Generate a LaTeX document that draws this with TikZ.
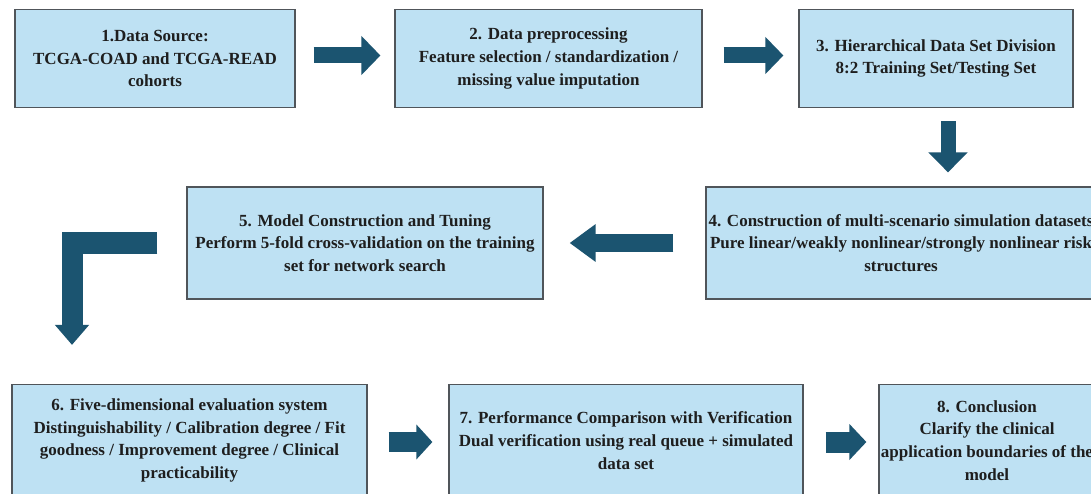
\documentclass[tikz,border=0pt]{standalone}
\usepackage{fontspec}
\setmainfont{Liberation Serif}
\usetikzlibrary{arrows.meta}
\definecolor{boxfill}{RGB}{190,225,243}
\definecolor{boxline}{RGB}{80,85,90}
\definecolor{arrowc}{RGB}{27,84,112}
\definecolor{txt}{RGB}{30,30,30}
\begin{document}
\begin{tikzpicture}[x=1pt,y=-1pt,
  box/.style={draw=boxline, line width=1.2pt, fill=boxfill, inner sep=0pt,
    align=center, text=txt, font=\fontsize{17}{22.8}\selectfont\bfseries},
  flow/.style={draw=arrowc, line cap=butt, line join=miter},
]
\useasboundingbox (0,0) rectangle (1091,494);
\clip (0,0) rectangle (1091,494);
\fill[white] (0,0) rectangle (1091,494);

\node[box, minimum width=280pt, minimum height=98pt] (b1) at (155,58.5)
  {1.Data Source:\\TCGA-COAD and TCGA-READ\\cohorts};
\node[box, minimum width=307pt, minimum height=98pt] (b2) at (548.5,58.5)
  {2. Data preprocessing\\Feature selection / standardization /\\missing value imputation};
\node[box, minimum width=274pt, minimum height=98pt] (b3) at (936,58.5)
  {3. Hierarchical Data Set Division\\8:2 Training Set/Testing Set};
\node[box, minimum width=390pt, minimum height=112pt] (b4) at (901,243)
  {4. Construction of multi-scenario simulation datasets\\Pure linear/weakly nonlinear/strongly nonlinear risk\\structures};
\node[box, minimum width=356pt, minimum height=112pt] (b5) at (365,243)
  {5. Model Construction and Tuning\\Perform 5-fold cross-validation on the training\\set for network search};
\node[box, minimum width=355pt, minimum height=112pt] (b6) at (189.5,440.5)
  {6. Five-dimensional evaluation system\\Distinguishability / Calibration degree / Fit\\goodness / Improvement degree / Clinical\\practicability};
\node[box, minimum width=354pt, minimum height=112pt] (b7) at (626,440.5)
  {7. Performance Comparison with Verification\\Dual verification using real queue + simulated\\data set};
\node[box, minimum width=216pt, minimum height=112pt] (b8) at (987,440.5)
  {8. Conclusion\\Clarify the clinical\\application boundaries of the\\model};

\coordinate (lc) at (72,0);

% 1 -> 2
\draw[flow, line width=16pt, -{Triangle[length=19pt,width=38pt]},
  shorten <=18pt, shorten >=14pt] ([yshift=3pt]b1.east) -- ([yshift=3pt]b2.west);
% 2 -> 3
\draw[flow, line width=16pt, -{Triangle[length=18pt,width=36pt]},
  shorten <=21pt, shorten >=15pt] ([yshift=3pt]b2.east) -- ([yshift=3pt]b3.west);
% 3 -> 4
\draw[flow, line width=15pt, -{Triangle[length=20pt,width=38pt]},
  shorten <=13pt, shorten >=14pt] ([xshift=12pt]b3.south) -- ([xshift=12pt]b3.south |- b4.north);
% 4 -> 5
\draw[flow, line width=18pt, -{Triangle[length=26pt,width=36pt]},
  shorten <=32pt, shorten >=26pt] (b4.west) -- (b5.west -| b5.east);
% 5 -> 6 (L-shaped)
\draw[flow, line width=21pt, -{Triangle[length=20pt,width=33pt]},
  shorten <=29pt, shorten >=39pt] (b5.west) -| (b6.north -| lc);
% 6 -> 7
\draw[flow, line width=20pt, -{Triangle[length=16pt,width=34pt]},
  shorten <=21pt, shorten >=16pt] ([yshift=-1.5pt]b6.east) -- ([yshift=-1.5pt]b7.west);
% 7 -> 8
\draw[flow, line width=21pt, -{Triangle[length=17pt,width=35pt]},
  shorten <=22pt, shorten >=12pt] ([yshift=-1.5pt]b7.east) -- ([yshift=-1.5pt]b8.west);
\end{tikzpicture}
\end{document}
